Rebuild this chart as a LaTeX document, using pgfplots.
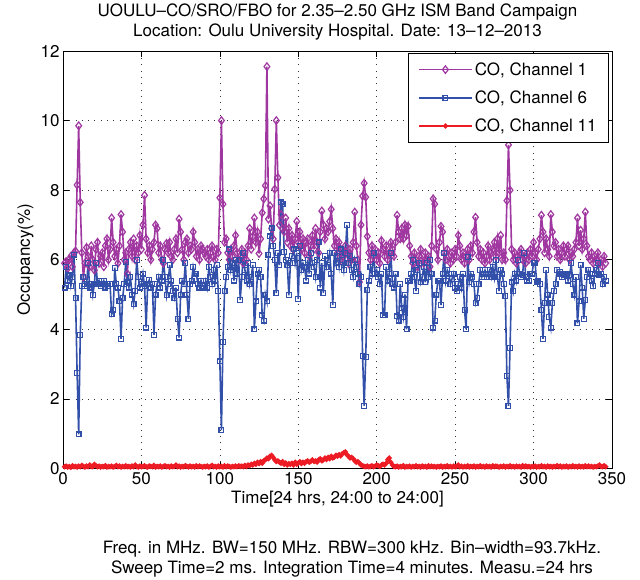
\documentclass[border=0pt]{standalone}
\usepackage{fontspec}
\setmainfont{TeX Gyre Heros}
\usepackage{pgfplots}
\pgfplotsset{compat=1.18}
\usepackage{pgfplotstable}
\definecolor{chA}{RGB}{160,55,160}
\definecolor{chB}{RGB}{50,80,170}
\definecolor{chC}{RGB}{237,28,36}

% occupancy per 4-minute sample, x = sample index
\pgfplotstableread[row sep=\\]{y\\
5.9\\ 5.95\\ 5.75\\ 6.0\\ 6.1\\ 5.8\\ 6.2\\ 6.25\\ 8.15\\ 9.85\\
7.65\\ 6.2\\ 5.5\\ 5.9\\ 6.35\\ 6.1\\ 5.8\\ 6.4\\ 6.0\\ 5.7\\
6.3\\ 6.5\\ 5.9\\ 6.1\\ 6.2\\ 5.8\\ 6.4\\ 6.6\\ 6.0\\ 6.3\\
7.2\\ 6.5\\ 6.1\\ 6.3\\ 5.9\\ 6.4\\ 7.3\\ 6.8\\ 6.0\\ 6.2\\
5.6\\ 6.3\\ 6.5\\ 6.1\\ 6.6\\ 6.0\\ 6.4\\ 6.2\\ 6.7\\ 6.3\\
7.0\\ 7.85\\ 6.6\\ 6.2\\ 6.4\\ 6.0\\ 6.3\\ 6.5\\ 7.0\\ 6.9\\
6.2\\ 6.4\\ 6.0\\ 5.9\\ 6.3\\ 6.47\\ 6.2\\ 6.5\\ 6.1\\ 6.0\\
6.3\\ 6.6\\ 6.2\\ 7.17\\ 6.8\\ 6.3\\ 6.0\\ 6.5\\ 6.6\\ 6.2\\
6.4\\ 6.3\\ 6.8\\ 6.5\\ 6.1\\ 6.3\\ 6.0\\ 6.4\\ 6.3\\ 6.2\\
6.1\\ 6.3\\ 6.0\\ 6.2\\ 6.4\\ 6.1\\ 6.0\\ 6.3\\ 6.2\\ 7.78\\
10.0\\ 7.6\\ 6.5\\ 6.6\\ 6.2\\ 6.0\\ 6.3\\ 6.1\\ 6.4\\ 6.7\\
6.2\\ 6.0\\ 6.1\\ 6.3\\ 5.9\\ 6.2\\ 6.0\\ 6.4\\ 6.9\\ 6.3\\
6.67\\ 7.2\\ 6.5\\ 6.8\\ 6.18\\ 6.6\\ 7.35\\ 7.75\\ 8.13\\ 11.55\\
7.17\\ 7.55\\ 6.9\\ 6.6\\ 8.03\\ 10.0\\ 8.36\\ 7.0\\ 7.3\\ 6.9\\
6.8\\ 7.2\\ 6.5\\ 6.9\\ 6.4\\ 6.7\\ 6.3\\ 6.6\\ 7.1\\ 6.5\\
6.8\\ 6.3\\ 6.6\\ 6.2\\ 6.5\\ 6.6\\ 6.1\\ 6.4\\ 6.7\\ 6.3\\
6.9\\ 6.5\\ 6.2\\ 6.8\\ 7.4\\ 7.0\\ 6.6\\ 6.9\\ 6.8\\ 7.1\\
7.45\\ 6.9\\ 6.4\\ 6.6\\ 6.2\\ 6.5\\ 6.0\\ 6.3\\ 6.1\\ 6.4\\
6.2\\ 5.9\\ 6.3\\ 6.0\\ 6.5\\ 7.37\\ 6.4\\ 6.0\\ 5.36\\ 7.0\\
7.83\\ 8.2\\ 7.8\\ 6.67\\ 6.2\\ 6.0\\ 6.4\\ 6.1\\ 6.3\\ 6.0\\
6.2\\ 5.9\\ 6.55\\ 6.3\\ 6.1\\ 6.4\\ 6.0\\ 6.2\\ 6.5\\ 6.3\\
6.1\\ 6.5\\ 7.28\\ 6.8\\ 6.6\\ 6.9\\ 6.6\\ 7.0\\ 6.7\\ 6.96\\
6.4\\ 6.1\\ 5.9\\ 6.2\\ 6.0\\ 5.8\\ 6.1\\ 6.3\\ 6.0\\ 5.9\\
6.2\\ 6.0\\ 6.1\\ 5.8\\ 6.4\\ 7.75\\ 7.6\\ 6.3\\ 6.0\\ 6.5\\
6.96\\ 6.8\\ 6.2\\ 6.0\\ 6.3\\ 6.1\\ 5.9\\ 6.2\\ 6.0\\ 6.3\\
6.1\\ 6.7\\ 6.4\\ 6.0\\ 6.2\\ 5.9\\ 6.1\\ 6.3\\ 6.0\\ 6.4\\
6.2\\ 6.8\\ 7.22\\ 6.5\\ 6.1\\ 6.3\\ 6.0\\ 6.2\\ 5.9\\ 6.1\\
6.4\\ 6.0\\ 6.2\\ 6.3\\ 6.5\\ 6.1\\ 6.6\\ 6.2\\ 6.7\\ 6.0\\
6.2\\ 6.0\\ 7.7\\ 9.3\\ 8.0\\ 6.3\\ 6.0\\ 6.2\\ 5.9\\ 6.1\\
6.2\\ 6.3\\ 6.0\\ 6.1\\ 5.9\\ 6.2\\ 6.0\\ 6.3\\ 6.1\\ 6.5\\
6.2\\ 6.0\\ 6.3\\ 6.6\\ 7.28\\ 6.8\\ 6.2\\ 6.6\\ 6.3\\ 6.1\\
7.3\\ 6.8\\ 6.4\\ 6.5\\ 6.1\\ 6.3\\ 6.0\\ 6.2\\ 6.4\\ 6.1\\
6.3\\ 6.4\\ 6.0\\ 6.2\\ 6.1\\ 6.3\\ 6.5\\ 7.2\\ 6.4\\ 6.85\\
6.3\\ 6.6\\ 7.37\\ 6.4\\ 6.1\\ 6.0\\ 6.2\\ 5.9\\ 6.1\\ 6.0\\
6.2\\ 5.9\\ 6.0\\ 5.8\\ 6.1\\ 5.9\\
}\chone

\pgfplotstableread[row sep=\\]{y\\
5.2\\ 5.8\\ 5.4\\ 5.55\\ 5.25\\ 5.5\\ 6.15\\ 4.9\\ 2.75\\ 0.98\\
3.84\\ 5.25\\ 5.5\\ 5.3\\ 5.25\\ 5.9\\ 5.2\\ 5.3\\ 4.98\\ 5.3\\
5.9\\ 5.3\\ 5.4\\ 5.25\\ 5.3\\ 5.4\\ 5.2\\ 5.3\\ 5.25\\ 5.3\\
4.43\\ 4.55\\ 5.77\\ 5.3\\ 5.2\\ 4.8\\ 3.73\\ 4.9\\ 5.3\\ 5.94\\
5.35\\ 5.2\\ 5.5\\ 5.0\\ 4.72\\ 5.1\\ 6.0\\ 5.5\\ 5.2\\ 5.3\\
5.6\\ 5.25\\ 4.05\\ 5.3\\ 5.42\\ 5.2\\ 5.3\\ 3.84\\ 5.0\\ 5.3\\
5.5\\ 5.2\\ 5.4\\ 6.0\\ 5.5\\ 4.98\\ 5.3\\ 5.85\\ 5.4\\ 5.1\\
4.9\\ 5.2\\ 4.3\\ 3.76\\ 5.0\\ 5.4\\ 5.3\\ 5.9\\ 5.0\\ 4.3\\
5.3\\ 5.4\\ 5.8\\ 5.6\\ 5.6\\ 5.3\\ 5.2\\ 5.4\\ 5.25\\ 5.2\\
5.4\\ 5.2\\ 5.8\\ 5.5\\ 5.3\\ 5.7\\ 5.4\\ 5.85\\ 5.1\\ 3.08\\
1.1\\ 3.64\\ 5.1\\ 5.5\\ 5.8\\ 6.3\\ 5.7\\ 5.9\\ 5.4\\ 6.0\\
5.6\\ 6.0\\ 4.85\\ 5.5\\ 6.2\\ 5.7\\ 5.4\\ 5.9\\ 5.3\\ 5.5\\
5.85\\ 4.0\\ 4.8\\ 5.6\\ 5.7\\ 5.5\\ 4.4\\ 4.25\\ 5.0\\ 4.8\\
6.15\\ 6.67\\ 6.9\\ 6.4\\ 6.0\\ 5.04\\ 6.2\\ 5.85\\ 7.65\\ 7.6\\
6.23\\ 6.0\\ 5.85\\ 4.98\\ 5.9\\ 6.1\\ 6.3\\ 5.9\\ 6.2\\ 4.87\\
6.4\\ 5.7\\ 5.9\\ 5.8\\ 5.4\\ 6.0\\ 5.6\\ 6.2\\ 5.9\\ 5.8\\
5.5\\ 6.0\\ 6.5\\ 5.2\\ 5.9\\ 5.04\\ 6.1\\ 5.8\\ 6.0\\ 6.2\\
5.6\\ 4.7\\ 6.2\\ 5.9\\ 6.1\\ 5.8\\ 6.3\\ 6.0\\ 5.7\\ 6.2\\
7.0\\ 5.9\\ 6.1\\ 5.7\\ 5.5\\ 6.0\\ 5.8\\ 5.6\\ 5.3\\ 5.5\\
3.23\\ 1.8\\ 3.2\\ 5.13\\ 5.4\\ 5.8\\ 5.6\\ 6.2\\ 5.6\\ 5.7\\
5.5\\ 5.3\\ 5.6\\ 4.4\\ 4.4\\ 5.8\\ 5.4\\ 5.6\\ 6.2\\ 5.3\\
5.2\\ 5.6\\ 4.37\\ 4.25\\ 5.3\\ 4.6\\ 4.35\\ 5.0\\ 4.0\\ 5.4\\
5.4\\ 5.6\\ 6.0\\ 5.5\\ 5.1\\ 5.7\\ 5.9\\ 5.35\\ 5.5\\ 5.8\\
5.35\\ 5.9\\ 5.5\\ 6.0\\ 5.6\\ 4.05\\ 4.25\\ 5.0\\ 5.4\\ 5.4\\
4.7\\ 5.6\\ 6.2\\ 5.4\\ 5.7\\ 5.6\\ 5.3\\ 5.45\\ 5.6\\ 5.2\\
5.1\\ 5.3\\ 5.5\\ 5.2\\ 5.6\\ 4.55\\ 4.0\\ 6.08\\ 5.35\\ 5.6\\
5.5\\ 5.3\\ 4.75\\ 4.9\\ 5.3\\ 5.7\\ 5.5\\ 5.6\\ 5.7\\ 5.5\\
5.6\\ 5.7\\ 5.5\\ 5.8\\ 5.5\\ 6.0\\ 5.5\\ 5.1\\ 5.7\\ 5.6\\
5.3\\ 4.95\\ 2.65\\ 1.8\\ 3.47\\ 5.35\\ 5.1\\ 5.6\\ 5.4\\ 6.0\\
5.6\\ 5.5\\ 5.55\\ 6.2\\ 5.5\\ 5.4\\ 5.4\\ 5.6\\ 5.6\\ 5.9\\
5.9\\ 5.35\\ 5.4\\ 5.3\\ 4.55\\ 3.73\\ 4.75\\ 5.7\\ 5.0\\ 4.35\\
4.05\\ 4.75\\ 5.1\\ 5.3\\ 5.7\\ 5.6\\ 5.65\\ 5.5\\ 5.6\\ 5.55\\
5.6\\ 5.4\\ 5.55\\ 5.9\\ 5.3\\ 5.0\\ 5.5\\ 4.17\\ 4.8\\ 5.85\\
5.2\\ 4.3\\ 4.85\\ 5.5\\ 5.7\\ 5.6\\ 5.4\\ 5.25\\ 5.6\\ 5.7\\
5.9\\ 5.55\\ 5.6\\ 5.3\\ 5.5\\ 5.4\\
}\chsix

\pgfplotstableread[row sep=\\]{y\\
0.05\\ 0.07\\ 0.04\\ 0.06\\ 0.03\\ 0.08\\ 0.05\\ 0.06\\ 0.04\\ 0.07\\
0.05\\ 0.09\\ 0.06\\ 0.04\\ 0.07\\ 0.05\\ 0.1\\ 0.06\\ 0.05\\ 0.12\\
0.08\\ 0.05\\ 0.07\\ 0.04\\ 0.06\\ 0.05\\ 0.08\\ 0.04\\ 0.06\\ 0.05\\
0.07\\ 0.04\\ 0.06\\ 0.09\\ 0.05\\ 0.07\\ 0.04\\ 0.06\\ 0.05\\ 0.08\\
0.05\\ 0.06\\ 0.04\\ 0.07\\ 0.05\\ 0.1\\ 0.06\\ 0.04\\ 0.07\\ 0.05\\
0.06\\ 0.08\\ 0.05\\ 0.04\\ 0.07\\ 0.06\\ 0.05\\ 0.09\\ 0.04\\ 0.06\\
0.05\\ 0.07\\ 0.04\\ 0.06\\ 0.08\\ 0.05\\ 0.06\\ 0.04\\ 0.07\\ 0.05\\
0.06\\ 0.1\\ 0.05\\ 0.07\\ 0.04\\ 0.06\\ 0.05\\ 0.08\\ 0.06\\ 0.04\\
0.07\\ 0.05\\ 0.06\\ 0.04\\ 0.08\\ 0.05\\ 0.07\\ 0.06\\ 0.04\\ 0.06\\
0.05\\ 0.07\\ 0.04\\ 0.06\\ 0.09\\ 0.05\\ 0.06\\ 0.04\\ 0.07\\ 0.05\\
0.06\\ 0.04\\ 0.08\\ 0.05\\ 0.07\\ 0.06\\ 0.04\\ 0.06\\ 0.05\\ 0.07\\
0.05\\ 0.08\\ 0.06\\ 0.07\\ 0.05\\ 0.09\\
0.06\\ 0.1\\ 0.08\\ 0.12\\ 0.1\\ 0.15\\ 0.12\\ 0.18\\ 0.14\\
0.2\\ 0.15\\ 0.22\\ 0.25\\ 0.3\\ 0.28\\ 0.35\\ 0.38\\ 0.32\\ 0.25\\
0.2\\ 0.22\\ 0.18\\ 0.15\\ 0.2\\ 0.12\\ 0.16\\ 0.1\\ 0.14\\ 0.12\\
0.15\\ 0.1\\ 0.18\\ 0.12\\ 0.16\\ 0.2\\ 0.14\\ 0.18\\ 0.15\\ 0.2\\
0.22\\ 0.18\\ 0.2\\ 0.25\\ 0.2\\ 0.22\\ 0.18\\ 0.25\\ 0.28\\ 0.22\\
0.25\\ 0.3\\ 0.26\\ 0.32\\ 0.28\\ 0.35\\ 0.3\\ 0.33\\ 0.38\\ 0.35\\
0.4\\ 0.36\\ 0.42\\ 0.45\\ 0.48\\ 0.4\\ 0.35\\ 0.3\\ 0.32\\ 0.28\\
0.22\\ 0.18\\ 0.2\\ 0.15\\ 0.1\\ 0.08\\ 0.06\\ 0.05\\ 0.07\\ 0.05\\
0.06\\ 0.08\\ 0.05\\ 0.07\\ 0.1\\ 0.08\\ 0.06\\ 0.1\\ 0.12\\ 0.1\\
0.15\\ 0.25\\ 0.3\\ 0.18\\ 0.1\\ 0.06\\
0.05\\ 0.07\\ 0.04\\ 0.06\\ 0.05\\ 0.08\\ 0.04\\ 0.06\\ 0.05\\
0.07\\ 0.04\\ 0.06\\ 0.05\\ 0.08\\ 0.05\\ 0.06\\ 0.04\\ 0.07\\ 0.05\\
0.06\\ 0.04\\ 0.08\\ 0.05\\ 0.07\\ 0.05\\ 0.06\\ 0.04\\ 0.06\\ 0.05\\
0.07\\ 0.04\\ 0.06\\ 0.05\\ 0.08\\ 0.05\\ 0.06\\ 0.04\\ 0.07\\ 0.05\\
0.06\\ 0.1\\ 0.05\\ 0.07\\ 0.04\\ 0.06\\ 0.05\\ 0.08\\ 0.04\\ 0.06\\
0.05\\ 0.07\\ 0.04\\ 0.06\\ 0.05\\ 0.08\\ 0.05\\ 0.06\\ 0.04\\ 0.07\\
0.05\\ 0.06\\ 0.04\\ 0.08\\ 0.05\\ 0.07\\ 0.06\\ 0.04\\ 0.06\\ 0.05\\
0.07\\ 0.04\\ 0.06\\ 0.05\\ 0.08\\ 0.05\\ 0.06\\ 0.04\\ 0.07\\ 0.05\\
0.06\\ 0.04\\ 0.08\\ 0.05\\ 0.07\\ 0.05\\ 0.06\\ 0.04\\ 0.06\\ 0.05\\
0.07\\ 0.04\\ 0.06\\ 0.05\\ 0.08\\ 0.05\\ 0.06\\ 0.04\\ 0.07\\ 0.05\\
0.06\\ 0.04\\ 0.06\\ 0.05\\ 0.08\\ 0.05\\ 0.07\\ 0.04\\ 0.06\\ 0.05\\
0.07\\ 0.04\\ 0.06\\ 0.05\\ 0.08\\ 0.05\\ 0.06\\ 0.04\\ 0.07\\ 0.05\\
0.06\\ 0.04\\ 0.08\\ 0.05\\ 0.07\\ 0.05\\ 0.06\\ 0.04\\ 0.06\\ 0.05\\
0.07\\ 0.1\\ 0.06\\ 0.05\\ 0.08\\ 0.05\\
}\chele

\newcommand{\bigfont}{\fontsize{17}{20}\selectfont}

\begin{document}
\begin{tikzpicture}[x=1pt,y=1pt]
\useasboundingbox (-63,-111.5) rectangle (577,468.5);
\begin{axis}[
  at={(0,0)}, anchor=south west,
  width=549pt, height=417.5pt, scale only axis,
  xmin=0, xmax=350, ymin=0, ymax=12,
  xtick={0,50,...,350}, ytick={0,2,...,12},
  tick align=inside, xtick pos=both, ytick pos=both,
  major tick length=6pt,
  grid=major,
  major grid style={black!80, line width=0.6pt, dash pattern=on 0.8pt off 5.5pt},
  axis line style={line width=0.9pt},
  every tick/.style={black, line width=0.7pt},
  /pgf/number format/assume math mode=true,
  tick label style={font=\bigfont},
  label style={font=\bigfont},
  xlabel={Time[24 hrs, 24:00 to 24:00]},
  ylabel={Occupancy(\%)},
  title={UOULU--CO/SRO/FBO for 2.35--2.50 GHz ISM Band Campaign\\Location: Oulu University Hospital. Date: 13--12--2013},
  title style={align=center, font=\bigfont, at={(0.5,1)}, anchor=south, inner sep=0pt, yshift=5pt},
  legend style={at={(0.9945,0.995)}, anchor=north east, draw=black, line width=0.9pt,
    font=\bigfont, inner xsep=10pt, inner ysep=7pt, row sep=10pt},
  legend cell align=left,
  legend image code/.code={\draw[mark repeat=2,mark phase=2,#1] plot coordinates {(0pt,0pt) (26.5pt,0pt) (53pt,0pt)};},
]
\addplot[chA, line width=1.6pt, mark=diamond, mark size=3.8pt, mark options={solid, line width=1.2pt}]
  table[x expr=\coordindex+1, y=y]{\chone};
\addlegendentry{CO, Channel 1}
\addplot[chB, line width=1.6pt, mark=square, mark size=2.4pt, mark options={solid, line width=1.2pt}]
  table[x expr=\coordindex+1, y=y]{\chsix};
\addlegendentry{CO, Channel 6}
\addplot[chC, line width=1.8pt, mark=*, mark size=1.6pt, mark options={solid}]
  table[x expr=\coordindex+1, y=y]{\chele};
\addlegendentry{CO, Channel 11}
\end{axis}
\node[align=center, font=\bigfont] at (289,-90.5)
  {Freq. in MHz. BW=150 MHz. RBW=300 kHz. Bin--width=93.7kHz.\\Sweep Time=2 ms. Integration Time=4 minutes. Measu.=24 hrs};
\end{tikzpicture}
\end{document}
